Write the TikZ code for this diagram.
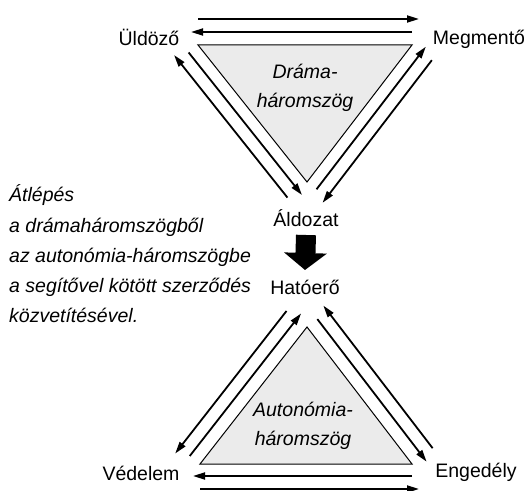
\documentclass[tikz,border=0pt]{standalone}
\usepackage{fontspec}
\setmainfont{Liberation Sans}
\usetikzlibrary{arrows.meta,calc}
\newcommand{\sidearrow}[3]{\draw[arrow] ($(#1)!#3!90:(#2)$) -- ($(#2)!#3!-90:(#1)$);}

\begin{document}
\begin{tikzpicture}[
  x=1pt, y=1pt,
  corner/.style={font=\fontsize{19.5}{29}\selectfont, anchor=base, inner sep=2pt},
  trilabel/.style={font=\fontsize{19.5}{29}\selectfont\itshape, align=center, anchor=base},
  tri/.style={draw, line width=1pt, fill=black!8},
  arrow/.style={-{Triangle[length=12pt,width=7pt]}, line width=1.8pt, shorten >=-7pt},
  bigarrow/.style={-{Triangle[length=17pt,width=42pt]}, line width=20pt}
]
\useasboundingbox (0,0) rectangle (527,490);

\coordinate (dU) at (198,445);
\coordinate (dM) at (412,445);
\coordinate (dA) at (307,308);
\coordinate (aH) at (307,163);
\coordinate (aV) at (200,26);
\coordinate (aE) at (412,26);

\draw[tri] (dU) -- (dM) -- (dA) -- cycle;
\draw[tri] (aH) -- (aE) -- (aV) -- cycle;

\node[trilabel] (drama) at (305,382) {Dráma-\\háromszög};
\node[trilabel] (auton) at (303,45) {Autonómia-\\háromszög};

\node[corner] (uldozo) at (149,444) {Üldöző};
\node[corner] (megmento) at (479,445) {Megmentő};
\node[corner] (aldozat) at (306,263) {Áldozat};
\node[corner] (hatoero) at (305,195) {Hatóerő};
\node[corner] (vedelem) at (141,10) {Védelem};
\node[corner] (engedely) at (476,13) {Engedély};

\node[font=\fontsize{19.5}{30.3}\selectfont\itshape, align=left, anchor=base west, inner sep=0pt] (atlepes) at (9,167)
  {Átlépés\\a drámaháromszögből\\az autonómia-háromszögbe\\a segítővel kötött szerződés\\közvetítésével.};

\sidearrow{dU}{dM}{26pt}
\sidearrow{dM}{dU}{-13pt}
\sidearrow{dM}{dA}{25pt}
\sidearrow{dA}{dM}{-12pt}
\sidearrow{dA}{dU}{25pt}
\sidearrow{dU}{dA}{-12pt}

\draw[bigarrow] ([yshift=-8pt]aldozat.base) -- ([yshift=25pt]hatoero.base);

\sidearrow{aE}{aH}{-26pt}
\sidearrow{aH}{aE}{13pt}
\sidearrow{aH}{aV}{-26pt}
\sidearrow{aV}{aH}{13pt}
\sidearrow{aV}{aE}{-25pt}
\sidearrow{aE}{aV}{12pt}
\end{tikzpicture}
\end{document}
